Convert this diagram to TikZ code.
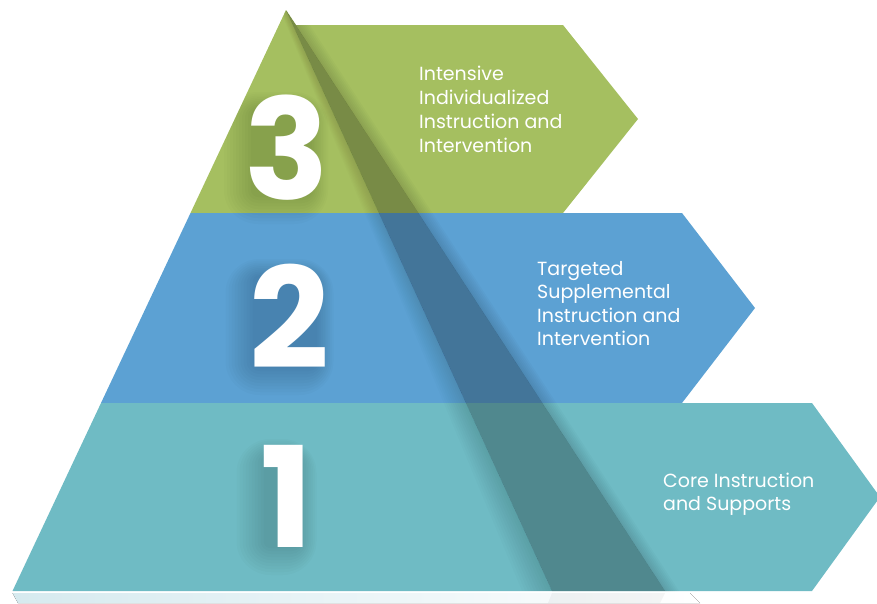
\documentclass[tikz,border=0pt]{standalone}
\usepackage{fontspec}
\newfontfamily\labfont{Poppins}
\usetikzlibrary{calc}
\definecolor{tgreen}{HTML}{A5BF60}
\definecolor{tblue}{HTML}{5CA1D3}
\definecolor{tteal}{HTML}{6FBBC4}
\definecolor{trefl}{HTML}{D6EAEF}
\tikzset{
  tier/.style={draw=none},
  numtxt/.style={inner sep=0pt, text=white, font=\labfont\bfseries\fontsize{140}{140}\selectfont},
  glow/.style={fill=black, opacity=0.017},
  labtxt/.style={inner sep=0pt, anchor=base west, text=white, font=\labfont\fontsize{19}{23}\selectfont},
}
\begin{document}
\begin{tikzpicture}[x=1pt,y=-1pt]
\useasboundingbox (0,0) rectangle (877,603);
\clip (0,0) rectangle (877,603);
% key points
\coordinate (apex) at (286,10);
\coordinate (g1) at (296,25);
\coordinate (g2) at (563,25);
\coordinate (g3) at (638,119);
\coordinate (g4) at (563,213);
\coordinate (gl) at (190.5,213);
\coordinate (b1) at (682,213);
\coordinate (b2) at (755,308);
\coordinate (b3) at (682,403);
\coordinate (bl) at (101,403);
\coordinate (c1) at (812,403);
\coordinate (c2) at (880,497);
\coordinate (c3) at (812,591);
\coordinate (cl) at (12.5,591);
\coordinate (s1) at (552,591);
\coordinate (s2) at (665,591);
% reflection
\fill[left color=trefl, right color=white] (12.5,593) -- (690,593) -- (700,603) -- (18,603) -- cycle;
\fill[black, opacity=0.04] (552,593) -- (665,593) -- (660,603) -- (548,603) -- cycle;
% tiers
\fill[tier, tgreen] (apex) -- (g1) -- (g2) -- (g3) -- (g4) -- (gl) -- cycle;
\fill[tier, tblue] (gl) -- (b1) -- (b2) -- (b3) -- (bl) -- cycle;
\fill[tier, tteal] (bl) -- (c1) -- (c2) -- (c3) -- (cl) -- cycle;
\begin{scope}
  \clip (apex) -- (g1) -- (g2) -- (g3) -- (g4) -- (b1) -- (b2) -- (b3) -- (c1) -- (c2) -- (c3) -- (cl) -- cycle;
  % soft shadow right of fold
  \foreach \d in {2,4,...,14} {
    \fill[black, opacity=0.02] (apex) -- (s2) -- ($(s2)+(\d,0)$) -- ($(apex)+(\d,0)$) -- cycle;
  }
  % soft shadow left of fold
  \foreach \d in {3,6,...,30} {
    \fill[black, opacity=0.01] (apex) -- (s1) -- ($(s1)+(-\d,0)$) -- ($(apex)+(-\d*0.2,0)$) -- cycle;
  }
  % dark fold stripe
  \fill[black, opacity=0.27] (apex) -- (s1) -- (s2) -- cycle;
  % soft glow behind the numbers
  \foreach \cx/\cy/\w/\h in {282/152/28/42, 285.5/321/30/44, 282.5/501/16/44} {
    \foreach \k in {3,6,...,30} {
      \fill[glow, rounded corners=\k pt+4pt] (\cx-\w-\k,\cy-\h-\k*0.6) rectangle (\cx+\w+\k*0.6,\cy+\h+\k);
    }
  }
\end{scope}
% numbers
\node[numtxt] (n3) at (287,147.5) {3};
\node[numtxt] (n2) at (289.5,316.5) {2};
\node[numtxt] (n1) at (286.5,496) {1};
% labels
\node[labtxt] (t3a) at (419,80) {Intensive};
\node[labtxt] (t3b) at (419,104) {Individualized};
\node[labtxt] (t3c) at (419,128) {Instruction and};
\node[labtxt] (t3d) at (419,152) {Intervention};
\node[labtxt] (t2a) at (537,275) {Targeted};
\node[labtxt] (t2b) at (537,298.5) {Supplemental};
\node[labtxt] (t2c) at (537,322) {Instruction and};
\node[labtxt] (t2d) at (537,345.5) {Intervention};
\node[labtxt] (t1a) at (663,487) {Core Instruction};
\node[labtxt] (t1b) at (663,510.5) {and Supports};
\end{tikzpicture}
\end{document}
